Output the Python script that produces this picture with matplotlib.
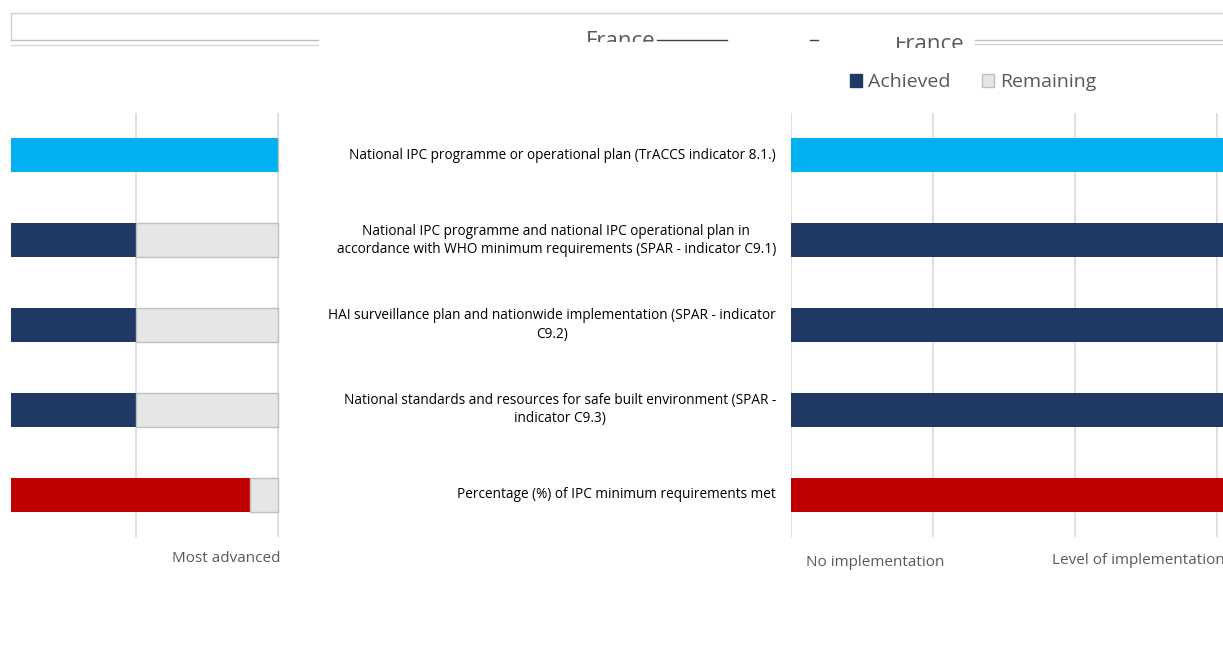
import matplotlib.pyplot as plt
from matplotlib.patches import Patch, Rectangle
from matplotlib.lines import Line2D

plt.rcParams['font.family'] = ['Open Sans', 'DejaVu Sans']

indicators = [
    "National IPC programme or operational plan (TrACCS indicator 8.1.)",
    "National IPC programme and national IPC operational plan in\naccordance with WHO minimum requirements (SPAR - indicator C9.1)",
    "HAI surveillance plan and nationwide implementation (SPAR - indicator\nC9.2)",
    "National standards and resources for safe built environment (SPAR -\nindicator C9.3)",
    "Percentage (%) of IPC minimum requirements met",
]
left_achieved = [2, 1, 1, 1, 1.8]
left_remaining = [0, 1, 1, 1, 0.2]
right_achieved = [4, 4, 4, 4, 4]
bar_colors = ['#00B0F0', '#203864', '#203864', '#203864', '#C00000']

W, H = 1223, 668
fig = plt.figure(figsize=(W / 100, H / 100), dpi=100)


def box(x0, y0, x1, y1):
    # pixel box (top-left origin) -> figure fraction rect
    return [x0 / W, 1 - y1 / H, (x1 - x0) / W, (y1 - y0) / H]


pos = list(range(len(indicators)))

# left panel (cut off on the left)
axl = fig.add_axes(box(11, 113, 280, 537))
axl.barh(pos, left_achieved, height=0.4, color=bar_colors, left=0)
axl.barh(pos, left_remaining, height=0.4, left=left_achieved,
         color='#E7E6E6', edgecolor='#BFBFBF', linewidth=1)

# right panel (cut off on the right)
axr = fig.add_axes(box(791, 113, 1223, 537))
axr.barh(pos, right_achieved, height=0.4, color=bar_colors)

for ax in (axl, axr):
    ax.set_ylim(4.5, -0.5)
    ax.set_xticks([0, 1, 2, 3])
    ax.grid(axis='x', color='#D9D9D9', linewidth=1.2)
    ax.set_axisbelow(True)
    ax.tick_params(length=0, labelbottom=False, labelleft=False)
    for s in ax.spines.values():
        s.set_visible(False)

axl.set_xlim(1 - 125 / 142, 2 + 2 / 142)
axr.set_xlim(0, 432 / 142)

# category labels in the middle
for i, lab in enumerate(indicators):
    axr.text(-15 / 142, i, lab, ha='right', va='center', multialignment='center',
             fontsize=9.8, color='#000000', linespacing=1.3, clip_on=False)

grey = '#595959'
fig.text(281 / W, 1 - 559 / H, 'Most advanced', ha='right', va='center',
         fontsize=11, color=grey)
fig.text(875 / W, 1 - 563 / H, 'No implementation', ha='center', va='center',
         fontsize=11, color=grey)
fig.text(1052 / W, 1 - 561 / H, 'Level of implementation', ha='left',
         va='center', fontsize=11, color=grey)

# legend
handles = [Patch(facecolor='#203864', edgecolor='#203864', label='Achieved'),
           Patch(facecolor='#E7E6E6', edgecolor='#BFBFBF', label='Remaining')]
fig.legend(handles=handles, loc='center', bbox_to_anchor=(973 / W, 1 - 82 / H),
           ncol=2, frameon=False, fontsize=14, labelcolor=grey,
           handlelength=0.65, handleheight=0.65, handletextpad=0.3,
           columnspacing=1.6)

# broken title strip at the top
bg = fig.add_axes([0, 0, 1, 1], zorder=-1)
bg.set_xlim(0, W)
bg.set_ylim(H, 0)
bg.axis('off')
bg.add_line(Line2D([11, W], [13, 13], color='#D0D0D0', lw=1))
bg.add_line(Line2D([11, 11], [13, 40], color='#D0D0D0', lw=1))
bg.add_line(Line2D([11, 318], [40, 40], color='#BFBFBF', lw=1))
bg.add_line(Line2D([11, 318], [45, 45], color='#D9D9D9', lw=1))
bg.add_line(Line2D([657, 727], [40, 40], color='#404040', lw=1))
bg.add_line(Line2D([810, 818], [40, 40], color='#404040', lw=1))
bg.add_line(Line2D([975, W], [40, 40], color='#BFBFBF', lw=1))
bg.add_line(Line2D([975, W], [44, 44], color='#D0D0D0', lw=1))

t1 = bg.text(586, 47, 'France', ha='left', va='baseline', fontsize=16,
             color=grey)
t1.set_clip_path(Rectangle((0, 0), W, 42, transform=bg.transData))
t1.set_clip_on(True)
t2 = bg.text(895, 50, 'France', ha='left', va='baseline', fontsize=16,
             color=grey)
t2.set_clip_path(Rectangle((0, 37), W, 11, transform=bg.transData))
t2.set_clip_on(True)

fig.savefig('out.png', dpi=100)
